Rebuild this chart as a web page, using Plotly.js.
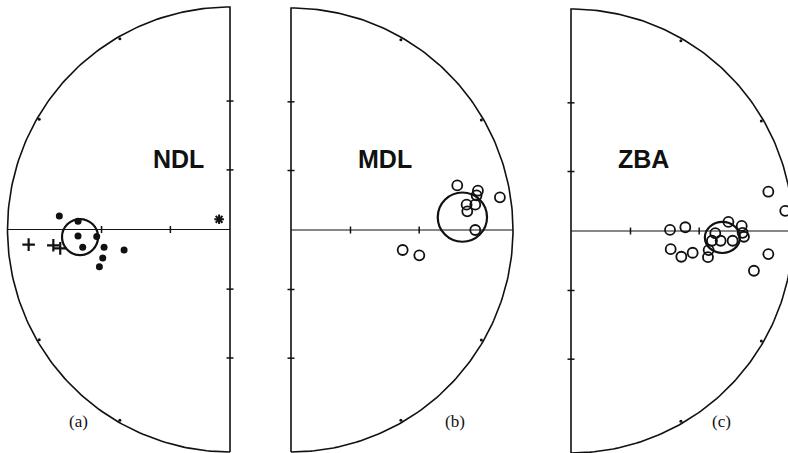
<!DOCTYPE html>
<html>
<head>
<meta charset="utf-8">
<script src="https://cdn.plot.ly/plotly-3.0.1.min.js"></script>
<style>
  body { margin: 0; background: #fff; }
  #plot { width: 788px; height: 453px; }
</style>
</head>
<body>
<div id="plot"></div>
<script>
// site names and panel letters
var sites = ['NDL', 'MDL', 'ZBA'];
var panelLabels = ['(a)', '(b)', '(c)'];

// NDL directions, projected net coords (x = east, y = north, unit radius)
var ndlDotX = [-0.767, -0.683, -0.683, -0.599, -0.662, -0.566, -0.476, -0.572, -0.587];
var ndlDotY = [0.061, 0.037, -0.029, -0.032, -0.080, -0.080, -0.092, -0.128, -0.167];
var ndlCrossX = [-0.905, -0.794, -0.763];
var ndlCrossY = [-0.068, -0.071, -0.085];
var ndlStarX = [-0.049];
var ndlStarY = [0.046];

// MDL directions
var mdlX = [0.749, 0.842, 0.836, 0.941, 0.791, 0.830, 0.794, 0.830, 0.503, 0.578];
var mdlY = [0.201, 0.177, 0.156, 0.147, 0.114, 0.114, 0.084, 0.000, -0.090, -0.114];

// ZBA directions
var zbaX = [0.889, 0.965, 0.446, 0.515, 0.709, 0.769, 0.650, 0.635, 0.674, 0.728,
            0.773, 0.779, 0.620, 0.617, 0.449, 0.497, 0.548, 0.889, 0.824];
var zbaY = [0.177, 0.091, 0.005, 0.017, 0.041, 0.023, -0.010, -0.044, -0.044, -0.044,
            -0.008, -0.026, -0.086, -0.118, -0.082, -0.116, -0.098, -0.104, -0.179];

// confidence cones: centre x, centre y, half-widths
var coneX = [-0.674, 0.772, 0.682];
var coneY = [-0.034, 0.058, -0.029];
var coneRx = [0.081, 0.111, 0.079];
var coneRy = [0.081, 0.111, 0.070];

// net tick angles (degrees from centre)
var tickAngles = [30, 60];

var W = 788, H = 453;
// pixel centre / radius of each net and the slice of the page it owns
var nets = [
  {cx: 230, cy: 229.5, R: 222.5, side: -1, left: 0, right: 262},
  {cx: 291, cy: 230, R: 222, side: 1, left: 262, right: 545},
  {cx: 571, cy: 231, R: 222, side: 1, left: 545, right: 788}
];

var ink = '#111';
var traces = [];
var layout = {
  width: W, height: H,
  margin: {l: 0, r: 0, t: 0, b: 0},
  paper_bgcolor: '#fff',
  plot_bgcolor: 'rgba(0,0,0,0)',
  showlegend: false,
  shapes: [],
  annotations: []
};

nets.forEach(function(n, i) {
  var sfx = i === 0 ? '' : String(i + 1);
  var xa = 'x' + sfx, ya = 'y' + sfx;
  layout['xaxis' + sfx] = {
    domain: [n.left / W, n.right / W],
    range: [(n.left - n.cx) / n.R, (n.right - n.cx) / n.R],
    visible: false, fixedrange: true, anchor: ya
  };
  layout['yaxis' + sfx] = {
    domain: [0, 1],
    range: [(n.cy - H) / n.R, n.cy / n.R],
    visible: false, fixedrange: true, anchor: xa
  };

  // half circle + vertical diameter
  var ax = [], ay = [];
  for (var d = -90; d <= 90; d += 1) {
    var t = d * Math.PI / 180;
    ax.push(n.side * Math.cos(t));
    ay.push(Math.sin(t));
  }
  ax.push(0); ay.push(-1);
  traces.push({x: ax, y: ay, xaxis: xa, yaxis: ya, mode: 'lines',
    line: {color: ink, width: 1.6}, hoverinfo: 'skip'});
  // horizontal diameter
  traces.push({x: [0, n.side], y: [0, 0], xaxis: xa, yaxis: ya, mode: 'lines',
    line: {color: ink, width: 1.2}, hoverinfo: 'skip'});

  // ticks
  var hx = [], hy = [], vx = [], vy = [], rx = [], ry = [];
  tickAngles.forEach(function(a) {
    var r = Math.tan(a / 2 * Math.PI / 180);
    hx.push(n.side * r); hy.push(0);
    vx.push(0, 0); vy.push(r, -r);
    var t = (90 - a) * Math.PI / 180;
    rx.push(n.side * Math.cos(t) * 0.99, n.side * Math.cos(t) * 0.99);
    ry.push(Math.sin(t) * 0.99, -Math.sin(t) * 0.99);
  });
  traces.push({x: hx, y: hy, xaxis: xa, yaxis: ya, mode: 'markers',
    marker: {symbol: 'line-ns', size: 5, color: ink, line: {color: ink, width: 1.5}}, hoverinfo: 'skip'});
  traces.push({x: vx, y: vy, xaxis: xa, yaxis: ya, mode: 'markers',
    marker: {symbol: 'line-ew', size: 5, color: ink, line: {color: ink, width: 1.5}}, hoverinfo: 'skip'});
  traces.push({x: rx, y: ry, xaxis: xa, yaxis: ya, mode: 'markers',
    marker: {symbol: 'circle', size: 3, color: ink}, hoverinfo: 'skip'});

  // confidence cone
  layout.shapes.push({
    type: 'circle', xref: xa, yref: ya,
    x0: coneX[i] - coneRx[i], x1: coneX[i] + coneRx[i],
    y0: coneY[i] - coneRy[i], y1: coneY[i] + coneRy[i],
    line: {color: ink, width: 2.2}
  });

  // site name and panel letter
  var nameX = [151, 385, 671][i];
  var letterX = [67, 455, 733][i];
  layout.annotations.push({
    xref: 'paper', yref: 'paper', x: nameX / W, y: 1 - 159 / H,
    text: '<b>' + sites[i] + '</b>', showarrow: false,
    font: {family: 'Liberation Sans, Arial, sans-serif', size: 25, color: ink}
  });
  layout.annotations.push({
    xref: 'paper', yref: 'paper', x: letterX / W, y: 1 - 433 / H,
    text: panelLabels[i], showarrow: false,
    font: {family: 'Liberation Serif, Times New Roman, serif', size: 17, color: ink}
  });
});

// NDL
traces.push({x: ndlDotX, y: ndlDotY, xaxis: 'x', yaxis: 'y', mode: 'markers',
  marker: {symbol: 'circle', size: 7, color: ink}});
traces.push({x: ndlCrossX, y: ndlCrossY, xaxis: 'x', yaxis: 'y', mode: 'markers',
  marker: {symbol: 'cross-thin-open', size: 9, color: ink, line: {color: ink, width: 2.2}}});
traces.push({x: ndlStarX, y: ndlStarY, xaxis: 'x', yaxis: 'y', mode: 'markers',
  marker: {symbol: 'asterisk-open', size: 8, color: ink, line: {color: ink, width: 2}}});
// MDL
traces.push({x: mdlX, y: mdlY, xaxis: 'x2', yaxis: 'y2', mode: 'markers',
  marker: {symbol: 'circle-open', size: 10, color: ink, line: {color: ink, width: 1.8}}});
// ZBA
traces.push({x: zbaX, y: zbaY, xaxis: 'x3', yaxis: 'y3', mode: 'markers',
  marker: {symbol: 'circle-open', size: 10, color: ink, line: {color: ink, width: 1.8}}});

Plotly.newPlot('plot', traces, layout, {staticPlot: true});
</script>
</body>
</html>
